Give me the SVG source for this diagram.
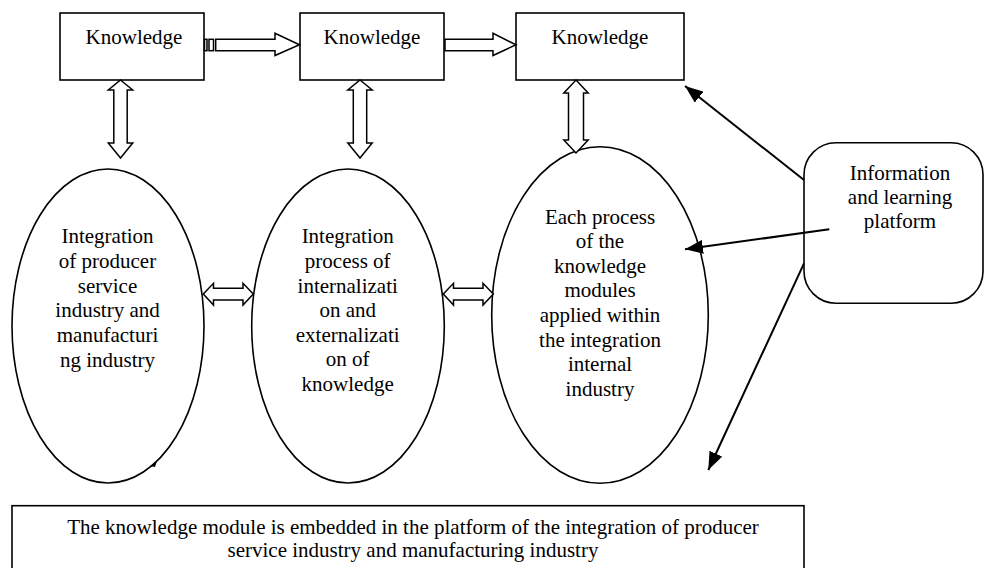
<svg xmlns="http://www.w3.org/2000/svg" width="985" height="568" viewBox="0 0 985 568">
<style>
.box{fill:#fff;stroke:#000;stroke-width:1.6}
.ell{fill:#fff;stroke:#000;stroke-width:1.6}
.blk{fill:#fff;stroke:#000;stroke-width:1.5;stroke-linejoin:miter}
.ln{stroke:#000;stroke-width:2;fill:none}
.t{font-family:"Times New Roman",Tinos,"Liberation Serif","DejaVu Serif",serif;font-size:21px;fill:#000;text-anchor:middle}
</style>
<defs>
<marker id="ah" markerUnits="userSpaceOnUse" markerWidth="20" markerHeight="14" refX="18" refY="7" orient="auto">
<path d="M0,0 L18,7 L0,14 Z" fill="#000"/>
</marker>
</defs>
<rect width="985" height="568" fill="#fff"/>
<g id="k1"><rect class="box" x="60" y="13" width="144" height="67"/><text class="t" x="134" y="44">Knowledge</text></g>
<g id="k2"><rect class="box" x="300" y="13" width="144" height="67"/><text class="t" x="372" y="44">Knowledge</text></g>
<g id="k3"><rect class="box" x="516" y="13" width="168" height="67"/><text class="t" x="600" y="44">Knowledge</text></g>
<g id="e1"><ellipse class="ell" cx="108" cy="326" rx="96" ry="157"/>
<text class="t" x="107.5"><tspan x="107.5" y="243">Integration</tspan><tspan x="107.5" y="268">of producer</tspan><tspan x="107.5" y="292.5">service</tspan><tspan x="107.5" y="317">industry and</tspan><tspan x="107.5" y="341.5">manufacturi</tspan><tspan x="107.5" y="366.5">ng industry</tspan></text>
<path d="M150,466 L157,461 L155,467 Z" fill="#000"/></g>
<g id="e2"><ellipse class="ell" cx="348" cy="326" rx="96.3" ry="157"/>
<text class="t" x="347.7"><tspan x="347.7" y="243">Integration</tspan><tspan x="347.7" y="268">process of</tspan><tspan x="347.7" y="292.5">internalizati</tspan><tspan x="347.7" y="317">on and</tspan><tspan x="347.7" y="341.5">externalizati</tspan><tspan x="347.7" y="366">on of</tspan><tspan x="347.7" y="390.5">knowledge</tspan></text></g>
<g id="e3"><ellipse class="ell" cx="600" cy="315" rx="108.3" ry="168.3"/>
<text class="t" x="600"><tspan x="600" y="223.5">Each process</tspan><tspan x="600" y="248">of the</tspan><tspan x="600" y="272.5">knowledge</tspan><tspan x="600" y="297">modules</tspan><tspan x="600" y="322">applied within</tspan><tspan x="600" y="346.5">the integration</tspan><tspan x="600" y="371">internal</tspan><tspan x="600" y="396">industry</tspan></text></g>
<g id="info"><rect class="box" x="804" y="142.7" width="179" height="160.5" rx="32" ry="32"/>
<text class="t" x="900"><tspan x="900" y="180">Information</tspan><tspan x="900" y="203.5">and learning</tspan><tspan x="900" y="227.5">platform</tspan></text></g>
<g id="bottom"><rect class="box" x="12" y="505.7" width="792" height="80"/>
<text class="t" x="413"><tspan x="413" y="534">The knowledge module is embedded in the platform of the integration of producer</tspan><tspan x="413" y="557">service industry and manufacturing industry</tspan></text></g>
<g id="connectors">
<rect class="blk" x="204.5" y="39.3" width="2.5" height="11.4"/>
<rect class="blk" x="209" y="39.3" width="4.5" height="11.4"/>
<path class="blk" d="M215.7,39.3 L275,39.3 L275,33.3 L299.5,44.8 L275,55.5 L275,50.7 L215.7,50.7 Z"/>
<path class="blk" d="M445,39.3 L493,39.3 L493,33.3 L516,44.8 L493,55.5 L493,50.7 L445,50.7 Z"/>
<path class="blk" d="M120.5,80 L132.7,90 L127.2,90 L127.2,143 L132.7,143 L120.5,158 L108.3,143 L113.8,143 L113.8,90 L108.3,90 Z"/>
<path class="blk" d="M360,80 L372.2,90 L366.7,90 L366.7,143 L372.2,143 L360,158 L347.8,143 L353.3,143 L353.3,90 L347.8,90 Z"/>
<path class="blk" d="M576,80 L588.2,93 L583.5,93 L583.5,140 L588.2,140 L576,153 L563.8,140 L568.5,140 L568.5,93 L563.8,93 Z"/>
<path class="blk" d="M203.3,294 L213.5,283.3 L213.5,288.3 L243,288.3 L243,283.3 L253.3,294 L243,305 L243,300 L213.5,300 L213.5,305 Z"/>
<path class="blk" d="M443.3,294 L453.5,283.3 L453.5,288.3 L483,288.3 L483,283.3 L493.3,294 L483,305 L483,300 L453.5,300 L453.5,305 Z"/>
<line class="ln" x1="804" y1="180" x2="685" y2="86" marker-end="url(#ah)"/>
<line class="ln" x1="829.3" y1="229.3" x2="685" y2="249.3" marker-end="url(#ah)"/>
<line class="ln" x1="804" y1="263.3" x2="708.3" y2="470" marker-end="url(#ah)"/>
</g>
</svg>
